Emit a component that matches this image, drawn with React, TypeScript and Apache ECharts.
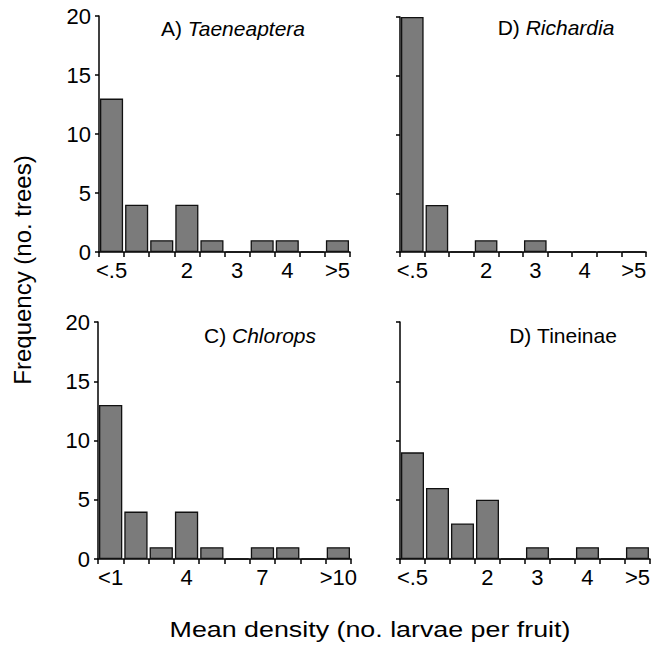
import React, { useEffect, useRef } from "react";
import * as echarts from "echarts";

const catsHalf = ["<.5", "", "", "2", "", "3", "", "4", "", ">5"];
const catsChlorops = ["<1", "", "", "4", "", "", "7", "", "", ">10"];
const valsTaeneaptera = [13, 4, 1, 4, 1, 0, 1, 1, 0, 1];
const valsRichardia = [20, 4, 0, 1, 0, 1, 0, 0, 0, 0];
const valsChlorops = [13, 4, 1, 4, 1, 0, 1, 1, 0, 1];
const valsTineinae = [9, 6, 3, 5, 0, 1, 0, 1, 0, 1];
const yTicks = [0, 5, 10, 15, 20];

const FONT = "'Liberation Sans', Arial, Helvetica, sans-serif";

export default function App() {
  const ref = useRef<HTMLDivElement>(null);
  useEffect(() => {
    if (!ref.current) return;
    const chart = echarts.init(ref.current, null, { renderer: "svg" });
    const grids = [
      { left: 99, top: 16, width: 251, height: 236 },
      { left: 400, top: 17, width: 246, height: 235 },
      { left: 98, top: 322, width: 253, height: 237 },
      { left: 400, top: 322, width: 250, height: 237 },
    ];
    const cats = [catsHalf, catsHalf, catsChlorops, catsHalf];
    const vals = [valsTaeneaptera, valsRichardia, valsChlorops, valsTineinae];
    const axisLine = { lineStyle: { color: "#000", width: 1.5 } };
    const xAxis = cats.map((c, i) => ({
      type: "category",
      gridIndex: i,
      data: c,
      boundaryGap: true,
      axisLine,
      axisTick: { show: true, length: 5, interval: 0, lineStyle: { color: "#000", width: 1.5 } },
      axisLabel: { interval: 0, color: "#000", fontSize: 22, fontFamily: FONT, margin: 7 },
    }));
    const yAxis = grids.map((_, i) => ({
      type: "value",
      gridIndex: i,
      min: yTicks[0],
      max: yTicks[yTicks.length - 1],
      interval: 5,
      axisLine: { show: true, ...axisLine },
      axisTick: { show: true, length: 4, lineStyle: { color: "#000", width: 1.5 } },
      splitLine: { show: false },
      axisLabel: {
        show: i % 2 === 0,
        color: "#000",
        fontSize: 22,
        fontFamily: FONT,
        margin: 8,
      },
    }));
    const series = vals.map((v, i) => ({
      type: "bar",
      xAxisIndex: i,
      yAxisIndex: i,
      data: v,
      barCategoryGap: "8%",
      itemStyle: { color: "#7b7b7b", borderColor: "#111", borderWidth: 1.3 },
    }));
    const titleText = (x: number, y: number, a: string, b: string, italic: boolean) => ({
      type: "text",
      x,
      y,
      style: {
        text: `{n|${a}}{${italic ? "i" : "n"}|${b}}`,
        fontSize: 21,
        fontFamily: FONT,
        fill: "#000",
        align: "center",
        verticalAlign: "middle",
        rich: {
          n: { fontSize: 21, fontFamily: FONT, color: "#000" },
          i: { fontSize: 21, fontFamily: FONT, fontStyle: "italic", color: "#000" },
        },
      },
    });
    chart.setOption({
      animation: false,
      backgroundColor: "#fff",
      grid: grids,
      xAxis,
      yAxis,
      series,
      graphic: [
        titleText(233, 28, "A) ", "Taeneaptera", true),
        titleText(556, 27, "D) ", "Richardia", true),
        titleText(260, 335, "C) ", "Chlorops", true),
        titleText(563, 335, "D) ", "Tineinae", false),
        {
          type: "text",
          x: 22,
          y: 270,
          rotation: Math.PI / 2,
          style: {
            text: "Frequency (no. trees)",
            fontSize: 24,
            fontFamily: FONT,
            fill: "#000",
            align: "center",
            verticalAlign: "middle",
          },
        },
        {
          type: "text",
          x: 370,
          y: 629,
          scaleX: 1.22,
          style: {
            text: "Mean density (no. larvae per fruit)",
            fontSize: 22,
            fontFamily: FONT,
            fill: "#000",
            align: "center",
            verticalAlign: "middle",
          },
        },
      ],
    });
    return () => chart.dispose();
  }, []);
  return (
    <div
      ref={ref}
      style={{ position: "fixed", left: 0, top: 0, width: 653, height: 648, background: "#fff" }}
    />
  );
}
